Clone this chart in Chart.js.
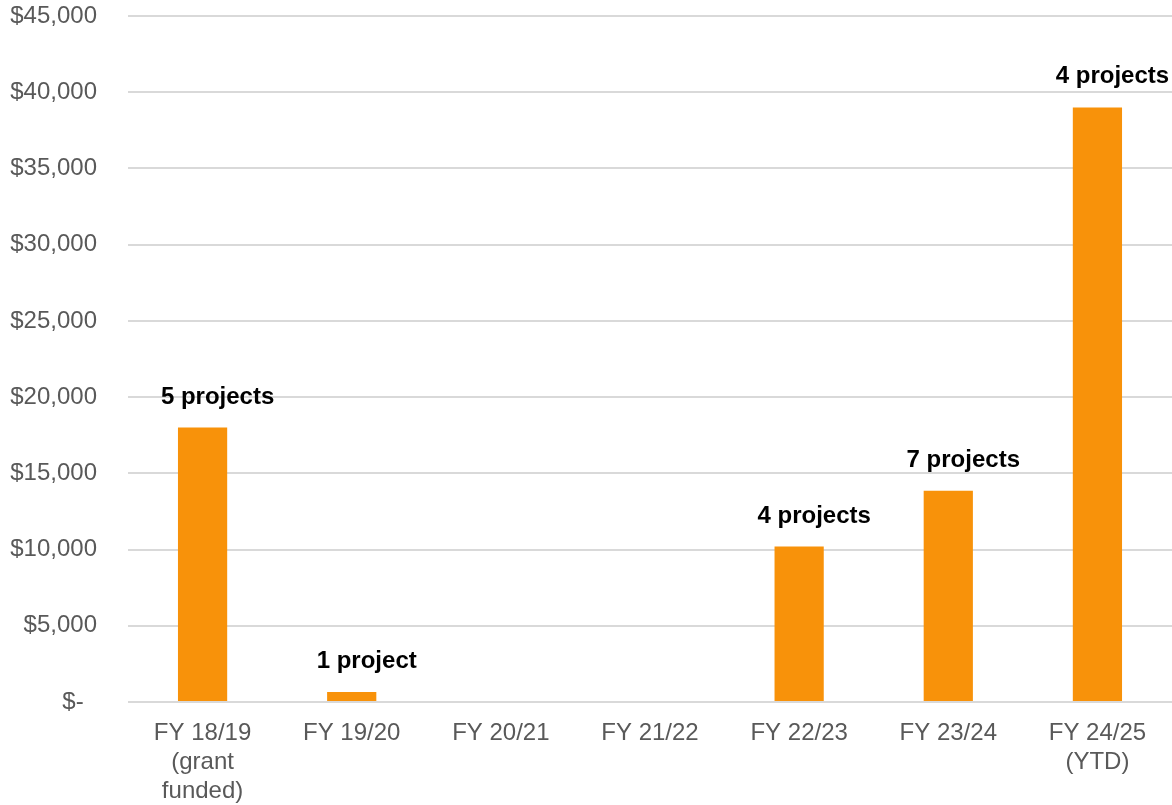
<!DOCTYPE html>
<html>
<head>
<meta charset="utf-8">
<script src="https://cdn.jsdelivr.net/npm/chart.js@4"></script>
<style>
  html, body { margin: 0; padding: 0; background: #fff; }
  #wrap { width: 1172px; height: 805px; }
</style>
</head>
<body>
<div id="wrap"><canvas id="chart"></canvas></div>
<script>
const categories = [
  ["FY 18/19", "(grant", "funded)"],
  "FY 19/20",
  "FY 20/21",
  "FY 21/22",
  "FY 22/23",
  "FY 23/24",
  ["FY 24/25", "(YTD)"],
];
const amounts = [18000, 650, 0, 0, 10200, 13850, 39000];
const projectLabels = ["5 projects", "1 project", "", "", "4 projects", "7 projects", "4 projects"];
const yTicks = [0, 5000, 10000, 15000, 20000, 25000, 30000, 35000, 40000, 45000];

const ORANGE = "#F8920A";
const GREY = "#595959";
const FONT = "'Liberation Sans', Arial, sans-serif";

// little plugin to put the "N projects" text above each bar
const projectText = {
  id: "projectText",
  afterDatasetsDraw(chart) {
    const ctx = chart.ctx;
    const meta = chart.getDatasetMeta(0);
    ctx.save();
    ctx.font = "bold 24px " + FONT;
    ctx.fillStyle = "#000";
    ctx.textAlign = "center";
    ctx.textBaseline = "alphabetic";
    meta.data.forEach((bar, i) => {
      const txt = projectLabels[i];
      if (!txt) return;
      ctx.fillText(txt, bar.x + 15, bar.y - 24);
    });
    ctx.restore();
  },
};

function money(v) {
  if (v === 0) return "$-  ";
  return "$" + v.toLocaleString("en-US");
}

new Chart(document.getElementById("chart"), {
  type: "bar",
  data: {
    labels: categories,
    datasets: [{
      data: amounts,
      backgroundColor: ORANGE,
      barPercentage: 0.33,
      categoryPercentage: 1,
    }],
  },
  options: {
    responsive: true,
    maintainAspectRatio: false,
    animation: false,
    layout: { autoPadding: false, padding: { top: 16, right: 0, left: 0, bottom: 0 } },
    plugins: { legend: { display: false }, tooltip: { enabled: false } },
    scales: {
      x: {
        afterFit: (axis) => { axis.height = 103; },
        grid: { display: false, drawTicks: false },
        border: { display: false },
        ticks: {
          color: GREY,
          font: { family: FONT, size: 24, lineHeight: 1.2 },
          padding: 17,
          maxRotation: 0,
          autoSkip: false,
        },
      },
      y: {
        min: 0,
        max: 45000,
        afterBuildTicks: (axis) => { axis.ticks = yTicks.map((v) => ({ value: v })); },
        afterFit: (axis) => { axis.width = 128; axis.paddingTop = 0; axis.paddingBottom = 0; },
        grid: { color: "#D9D9D9", lineWidth: 2, drawTicks: false },
        border: { display: false },
        ticks: {
          color: GREY,
          font: { family: FONT, size: 24 },
          padding: 31,
          callback: (v) => money(v),
        },
      },
    },
  },
  plugins: [projectText],
});
</script>
</body>
</html>
